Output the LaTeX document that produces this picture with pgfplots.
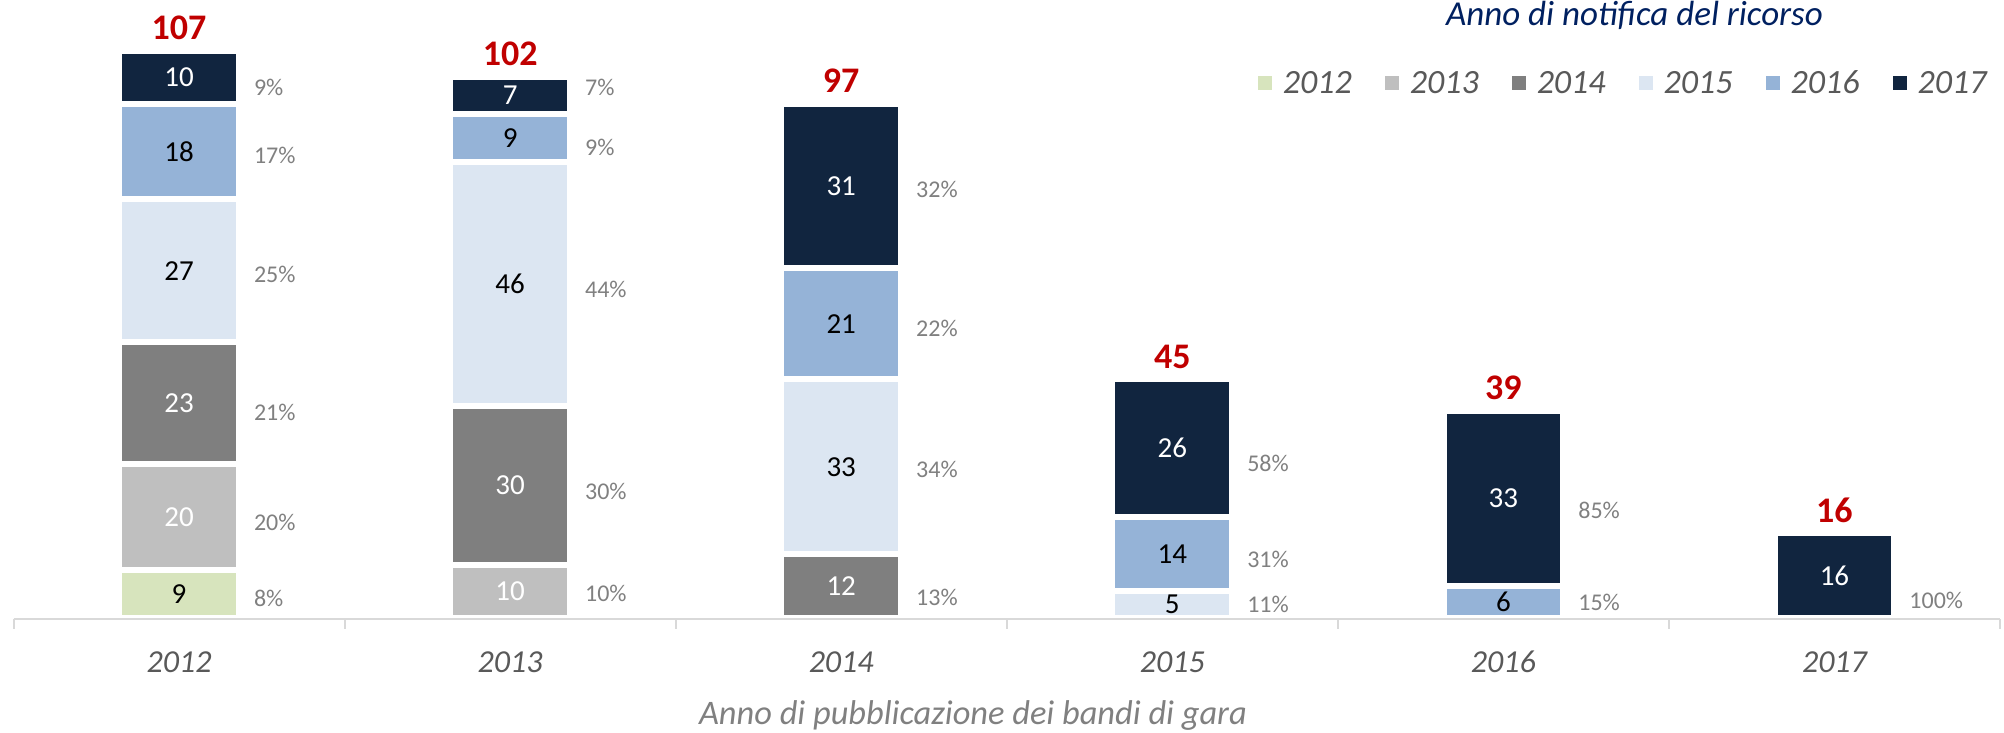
\documentclass[border=0pt]{standalone}
\usepackage{pgfplots}
\pgfplotsset{compat=1.18}
\usepackage{pgfplotstable}
\usepackage{fontspec}
\setmainfont{Carlito}
\definecolor{c2012}{HTML}{D7E4BD}
\definecolor{c2013}{HTML}{BFBFBF}
\definecolor{c2014}{HTML}{7F7F7F}
\definecolor{c2015}{HTML}{DCE6F2}
\definecolor{c2016}{HTML}{95B3D7}
\definecolor{c2017}{HTML}{11253F}
\definecolor{totred}{HTML}{C00000}
\definecolor{navy}{HTML}{002060}
\definecolor{tickgray}{HTML}{595959}
\definecolor{pctgray}{HTML}{808080}
\definecolor{axisgray}{HTML}{D9D9D9}

% values, percentages, totals, and small vertical offsets of the percentage labels (pt)
\pgfplotstableread{
x v12 v13 v14 v15 v16 v17 p12 p13 p14 p15 p16 p17 tot d12 d13 d14 d15 d16 d17
0 9 20 23 27 18 10 8 20 21 25 17 9 107 1.3 1.9 3.8 1.3 1.3 4.5
1 0 10 30 46 9 7 0 10 30 44 9 7 102 0 0.6 2.6 1.9 3.8 -4.5
2 0 0 12 33 21 31 0 0 13 34 22 32 97 0 0 5.1 0.6 1.9 1.3
3 0 0 0 5 14 26 0 0 0 11 31 58 45 0 0 0 -0.6 1.9 7.0
4 0 0 0 0 6 33 0 0 0 0 15 85 39 0 0 0 0 -0.6 5.1
5 0 0 0 0 0 16 0 0 0 0 0 100 16 0 0 0 0 0 11.5
}\data

\pgfplotsset{
  seg/.style n args={6}{
    fill=#1, draw=white, line width=3pt,
    point meta=explicit symbolic,
    visualization depends on={\thisrow{#2} \as \val},
    visualization depends on={\thisrow{#3} \as \pct},
    visualization depends on={\thisrow{#6} \as \dy},
    visualization depends on={\thisrow{tot} \as \tot},
    nodes near coords={\ifdim\val pt>0.1pt\pgfmathsetlengthmacro\pctraise{-\dy*1pt}\makebox[0pt][c]{\fontsize{14.5}{15}\selectfont\color{#4}\pgfplotspointmeta}\makebox[0pt][l]{\hspace{37.5pt}\smash{\raisebox{\pctraise}{\fontsize{12}{13}\selectfont\color{pctgray}\pgfmathprintnumber[assume math mode=true]{\pct}\%}}}#5\fi},
    every node near coord/.style={anchor=center, inner sep=0pt},
  },
}
\newcommand\totlabel{\pgfmathsetlengthmacro\totraise{\val*1.3255pt+10.38pt}\makebox[0pt][c]{\smash{\raisebox{\totraise}{\fontsize{18}{20}\selectfont\bfseries\color{totred}\pgfmathprintnumber[assume math mode=true]{\tot}}}}}

\begin{document}
\begin{tikzpicture}
\useasboundingbox (-6.75pt,-57pt) rectangle (995.25pt,309.5pt);
\begin{axis}[
  scale only axis,
  width=993.25pt, height=309.5pt,
  xmin=-0.5, xmax=5.5, ymin=-0.2, ymax=116.55,
  ybar stacked, bar width=59.85pt,
  clip=false, axis on top,
  axis x line*=bottom, axis y line=none,
  x axis line style={-, draw=axisgray, line width=1pt},
  xtick={0,1,2,3,4,5},
  xticklabels={2012,2013,2014,2015,2016,2017},
  major tick length=0pt,
  minor xtick={-0.5,0.5,1.5,2.5,3.5,4.5,5.5},
  minor tick length=5pt, tick align=outside,
  minor tick style={draw=axisgray, line width=1pt},
  xticklabel style={font=\fontsize{16}{17}\selectfont\itshape, text=tickgray, anchor=center, yshift=-21.5pt},
  xlabel={Anno di pubblicazione dei bandi di gara},
  xlabel style={at={(axis description cs:0.483,0)}, anchor=center, yshift=-48.5pt, font=\fontsize{17.2}{18}\selectfont\itshape, text=pctgray},
  title={Anno di notifica del ricorso},
  title style={at={(rel axis cs:0.816,0.9564)}, anchor=center, font=\fontsize{17.5}{18}\selectfont\itshape, text=navy},
  legend columns=6,
  legend style={draw=none, fill=none, inner sep=0pt, at={(rel axis cs:0.9934,0.8651)}, anchor=east,
    font=\fontsize{17}{18}\selectfont\itshape, text=tickgray,
    nodes={inner xsep=0pt, inner ysep=0pt},
    /tikz/every odd column/.append style={column sep=5.5pt},
    /tikz/every even column/.append style={column sep=16.5pt}},
  legend image code/.code={\path[#1, draw=none] (0pt,-3.5pt) rectangle (7pt,3.5pt);},
]
\addplot[seg={c2012}{v12}{p12}{black}{}{d12}] table[x=x, y=v12, meta=v12] \data;
\addlegendentry{2012}
\addplot[seg={c2013}{v13}{p13}{white}{}{d13}] table[x=x, y=v13, meta=v13] \data;
\addlegendentry{2013}
\addplot[seg={c2014}{v14}{p14}{white}{}{d14}] table[x=x, y=v14, meta=v14] \data;
\addlegendentry{2014}
\addplot[seg={c2015}{v15}{p15}{black}{}{d15}] table[x=x, y=v15, meta=v15] \data;
\addlegendentry{2015}
\addplot[seg={c2016}{v16}{p16}{black}{}{d16}] table[x=x, y=v16, meta=v16] \data;
\addlegendentry{2016}
\addplot[seg={c2017}{v17}{p17}{white}{\totlabel}{d17}] table[x=x, y=v17, meta=v17] \data;
\addlegendentry{2017}
\end{axis}
\end{tikzpicture}
\end{document}
